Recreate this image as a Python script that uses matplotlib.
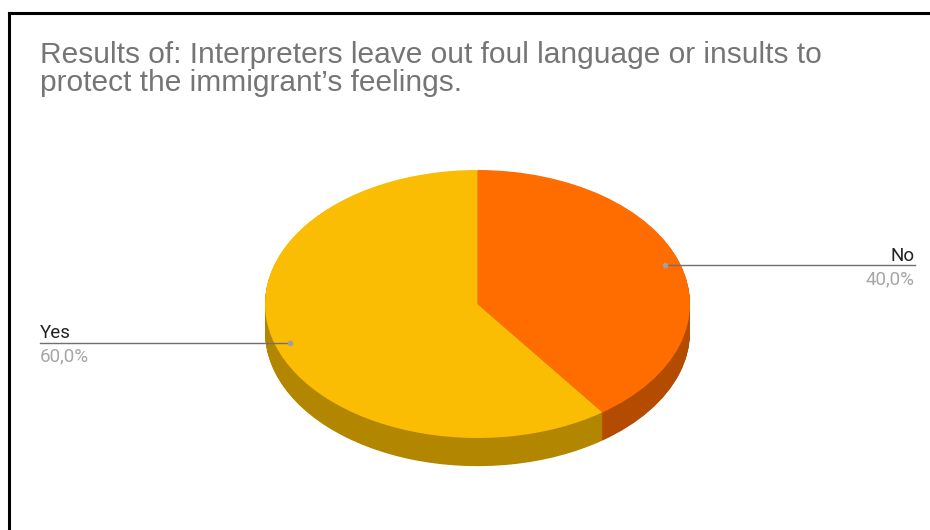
import matplotlib
matplotlib.use('Agg')
import matplotlib.pyplot as plt
from matplotlib.lines import Line2D
import numpy as np

# Survey answers
labels = ['No', 'Yes']
values = [40.0, 60.0]
pct_labels = ['40,0%', '60,0%']
colors = ['#FF6D01', '#FBBC04']
side_colors = ['#B34C00', '#B38600']

title_lines = ["Results of: Interpreters leave out foul language or insults to",
               "protect the immigrant\u2019s feelings."]

W, H = 930, 530
fig = plt.figure(figsize=(W / 100, H / 100), dpi=100)


def fig_box(x0, y0, x1, y1):
    # pixel box (top-left origin) -> figure fraction rect
    return [x0 / W, 1 - y1 / H, (x1 - x0) / W, (y1 - y0) / H]


# Pie axes: x from -1..1, y from -1.3..1 so the disc is squashed into an ellipse
ry_px = 134
ax = fig.add_axes(fig_box(265, 170, 690, 170 + 2.3 * ry_px))
depth = 0.21

# Side of the 3D pie: stacked copies going down
for off in np.linspace(depth, 0.005, 40):
    ax.pie(values, colors=side_colors, startangle=90, counterclock=False,
           center=(0, -off), radius=1, wedgeprops=dict(linewidth=0))
# Top face
ax.pie(values, colors=colors, startangle=90, counterclock=False,
       center=(0, 0), radius=1, wedgeprops=dict(linewidth=0))
ax.set_aspect('auto')
ax.set_xlim(-1, 1)
ax.set_ylim(-1.3, 1)
ax.axis('off')

# Leader lines and labels
inv = ax.transData.inverted()
fracs = np.array(values) / sum(values)
start = 90
label_x = {'No': 915, 'Yes': 40}
for lab, f, pct in zip(labels, fracs, pct_labels):
    mid = np.deg2rad(start - f * 360 / 2)
    start -= f * 360
    ax_x, ax_y = 0.93 * np.cos(mid), 0.93 * np.sin(mid)
    end_x = inv.transform((label_x[lab], 0))[0]
    ax.plot([ax_x, end_x], [ax_y, ax_y], color='#707070', lw=1, clip_on=False)
    ax.plot([ax_x], [ax_y], 'o', color='#A0A0A0', ms=3, clip_on=False)
    ha = 'right' if end_x > 0 else 'left'
    ax.annotate(lab, (end_x, ax_y), xytext=(0, 3.5), textcoords='offset points',
                ha=ha, va='baseline', fontsize=13.5, color='#222222',
                family='Roboto', annotation_clip=False)
    ax.annotate(pct, (end_x, ax_y), xytext=(0, -13.5), textcoords='offset points',
                ha=ha, va='baseline', fontsize=13.5, color='#A6A6A6',
                family='Roboto', annotation_clip=False)

# Two-line title in grey
for line, base in zip(title_lines, [63, 91]):
    fig.text(40 / W, 1 - base / H, line, ha='left', va='baseline', fontsize=21.5,
             color='#757575', family='Liberation Sans')

# Black frame on the top and left edges
fig.add_artist(Line2D([9 / W, 1], [1 - 13 / H, 1 - 13 / H], color='black', lw=2.2))
fig.add_artist(Line2D([9 / W, 9 / W], [0, 1 - 13 / H], color='black', lw=2.2))

fig.savefig('out.png', dpi=100, facecolor='white')
